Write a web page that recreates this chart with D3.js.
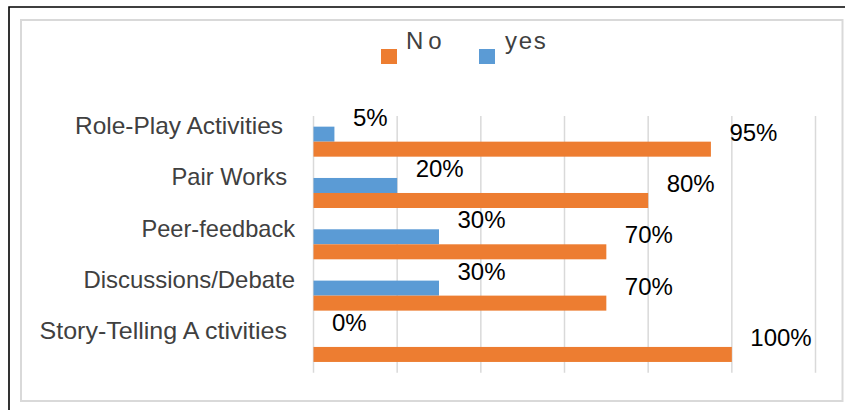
<!DOCTYPE html>
<html>
<head>
<meta charset="utf-8">
<script src="https://cdn.jsdelivr.net/npm/d3@7/dist/d3.min.js"></script>
<style>
  html, body { margin: 0; padding: 0; background: #fff; }
  svg { display: block; }
  text { font-family: "Liberation Sans", Arial, sans-serif; }
</style>
</head>
<body>
<svg id="chart" width="845" height="410"></svg>
<script>
// ---- data ----
const categories = ["Role-Play Activities", "Pair Works", "Peer-feedback", "Discussions/Debate", "Story-Telling A ctivities"];
const yesValues = [0.05, 0.20, 0.30, 0.30, 0.00];
const noValues  = [0.95, 0.80, 0.70, 0.70, 1.00];
const seriesNames = ["No", "yes"];
const xTicks = [0, 0.2, 0.4, 0.6, 0.8, 1.0, 1.2];

const COLORS = { No: "#ED7D31", yes: "#5B9BD5" };

const svg = d3.select("#chart");

// outer frame
svg.append("path")
  .attr("d", "M9,410 L9,7 L845,7")
  .attr("fill", "none").attr("stroke", "#000").attr("stroke-width", 1.6);
svg.append("rect")
  .attr("x", 21).attr("y", 20).attr("width", 821.5).attr("height", 381)
  .attr("fill", "#fff").attr("stroke", "#d9d9d9").attr("stroke-width", 2);

// scales
const x = d3.scaleLinear().domain([0, 1.2]).range([313.5, 815.5]);
const y = d3.scaleBand().domain(categories).range([116, 372.6])
  .paddingInner(0.415).paddingOuter(0.2075);
const sub = d3.scaleBand().domain(["yes", "No"]).range([0, y.bandwidth()]);

// gridlines
svg.append("g").selectAll("line").data(xTicks).join("line")
  .attr("x1", d => x(d)).attr("x2", d => x(d))
  .attr("y1", 116).attr("y2", 372.7)
  .attr("stroke", "#d9d9d9").attr("stroke-width", 1.5);

// bars
const rows = categories.map((c, i) => ({ c, yes: yesValues[i], No: noValues[i] }));
const g = svg.append("g");
["yes", "No"].forEach(s => {
  g.selectAll("rect." + s).data(rows).join("rect")
    .attr("class", s)
    .attr("x", x(0))
    .attr("y", d => y(d.c) + sub(s))
    .attr("width", d => x(d[s]) - x(0))
    .attr("height", sub.bandwidth())
    .attr("fill", COLORS[s]);
});

// data labels
const fmt = d3.format(".0%");
["yes", "No"].forEach(s => {
  g.selectAll("text." + s).data(rows).join("text")
    .attr("class", s)
    .attr("x", d => x(d[s]) + 18.5)
    .attr("y", d => y(d.c) + sub(s) - 1)
    .attr("font-size", 24)
    .attr("fill", "#000")
    .text(d => fmt(d[s]));
});

// category labels
const catRight = [283, 287, 295, 295, 287];
const catWidth = [208, 115.5, 153.5, 211.5, 247.5];
svg.append("g").selectAll("text").data(categories).join("text")
  .attr("x", (d, i) => catRight[i] - catWidth[i])
  .attr("y", d => y(d) + y.bandwidth() / 2 - 7.5)
  .attr("font-size", 24)
  .attr("fill", "#404040")
  .attr("textLength", (d, i) => catWidth[i])
  .attr("lengthAdjust", "spacingAndGlyphs")
  .text(d => d);

// legend
const legendItems = [
  { name: seriesNames[0], sx: 381, tx: 406, tw: 35.7 },
  { name: seriesNames[1], sx: 479, tx: 505, tw: 40.7 }
];
const lg = svg.append("g");
legendItems.forEach(it => {
  lg.append("rect").attr("x", it.sx).attr("y", 49).attr("width", 16).attr("height", 15)
    .attr("fill", COLORS[it.name]);
  lg.append("text").attr("x", it.tx).attr("y", 49)
    .attr("font-size", 24).attr("fill", "#404040")
    .attr("textLength", it.tw).attr("lengthAdjust", "spacing")
    .text(it.name);
});
</script>
</body>
</html>
